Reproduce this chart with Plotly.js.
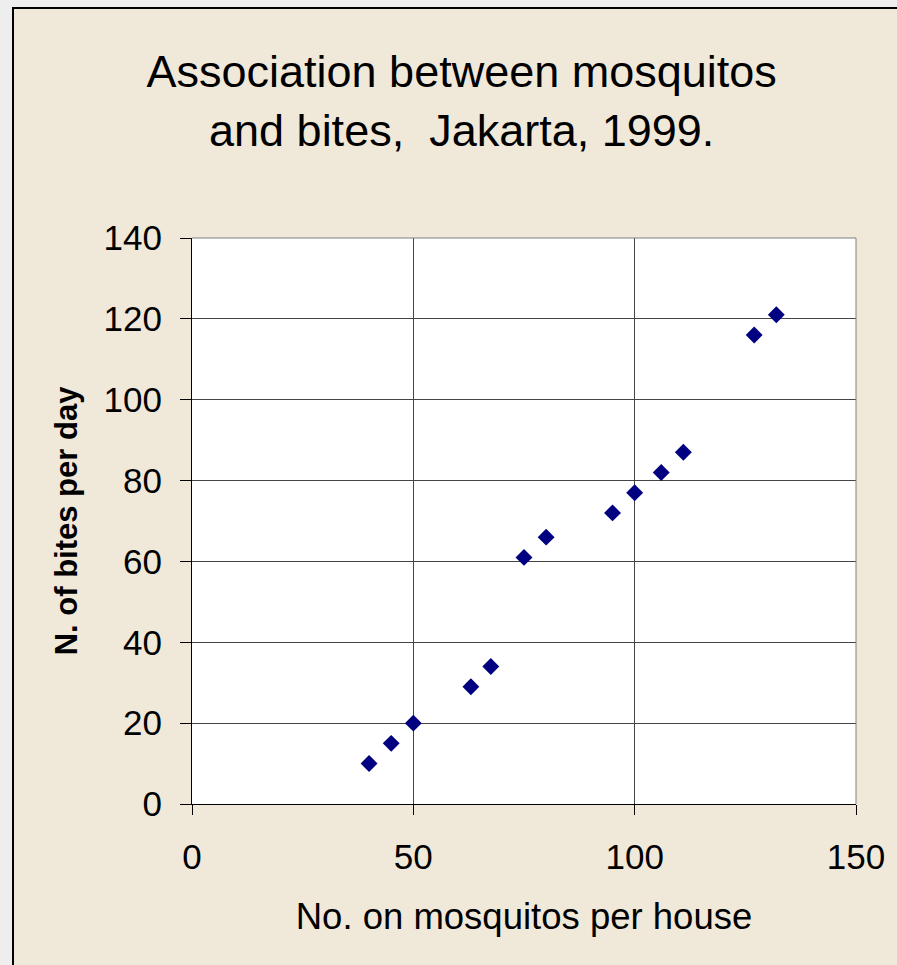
<!DOCTYPE html>
<html><head><meta charset="utf-8">
<script src="https://cdn.plot.ly/plotly-3.0.1.min.js"></script>
<style>
html,body{margin:0;padding:0;background:#EEEEEE;width:897px;height:965px;overflow:hidden;}
#gd{position:absolute;left:12px;top:7px;width:883px;height:956px;border-left:2px solid #000;border-top:2px solid #000;background:#F0E8D9;}
</style></head><body>
<div id="gd"></div>
<script>
const mosquitos = [40, 45, 50, 63, 67.5, 75, 80, 95, 100, 106, 111, 127, 132];
const bites     = [10, 15, 20, 29, 34, 61, 66, 72, 77, 82, 87, 116, 121];
const xTicks = [0, 50, 100, 150];
const yTicks = [0, 20, 40, 60, 80, 100, 120, 140];

const font = 'Liberation Sans, Arial, sans-serif';
Plotly.newPlot('gd', [{
  type: 'scatter', mode: 'markers',
  x: mosquitos, y: bites,
  marker: {symbol: 'diamond', size: 13, color: '#000080'},
  hoverinfo: 'x+y'
}], {
  width: 883, height: 956,
  paper_bgcolor: '#F0E8D9', plot_bgcolor: '#FFFFFF',
  margin: {l: 178, r: 41, t: 229, b: 161},
  showlegend: false,
  font: {family: font, color: '#000'},
  title: {text: 'Association between mosquitos<br>and bites,  Jakarta, 1999.', font: {size: 45, family: font, color: '#000'},
          x: 0.507, xanchor: 'center', y: 0.918, yanchor: 'top'},
  xaxis: {range: [0, 150], tickvals: xTicks, ticktext: xTicks.map(String), showgrid: true, gridcolor: '#444', gridwidth: 1,
          zeroline: false, showline: true, linecolor: '#000', linewidth: 1, ticks: 'outside', ticklen: 10, tickcolor: '#000',
          tickfont: {size: 35, family: font}, ticklabelstandoff: 12,
          title: {text: 'No. on mosquitos per house', font: {size: 36.5, family: font}, standoff: 28}},
  yaxis: {range: [0, 140], tickvals: yTicks, ticktext: yTicks.map(String), showgrid: true, gridcolor: '#444', gridwidth: 1,
          zeroline: false, showline: true, linecolor: '#000', linewidth: 1, ticks: 'outside', ticklen: 11, tickcolor: '#000',
          tickfont: {size: 35, family: font}, ticklabelstandoff: 11,
          title: {text: '<b>N. of bites per day</b>', font: {size: 31, family: font}, standoff: 16}},
  shapes: [
    {type: 'line', xref: 'paper', yref: 'paper', x0: 0, x1: 1, y0: 1, y1: 1, line: {color: '#808080', width: 1}},
    {type: 'line', xref: 'paper', yref: 'paper', x0: 1, x1: 1, y0: 0, y1: 1, line: {color: '#808080', width: 1}}
  ]
}, {displayModeBar: false, staticPlot: true});
</script></body></html>
